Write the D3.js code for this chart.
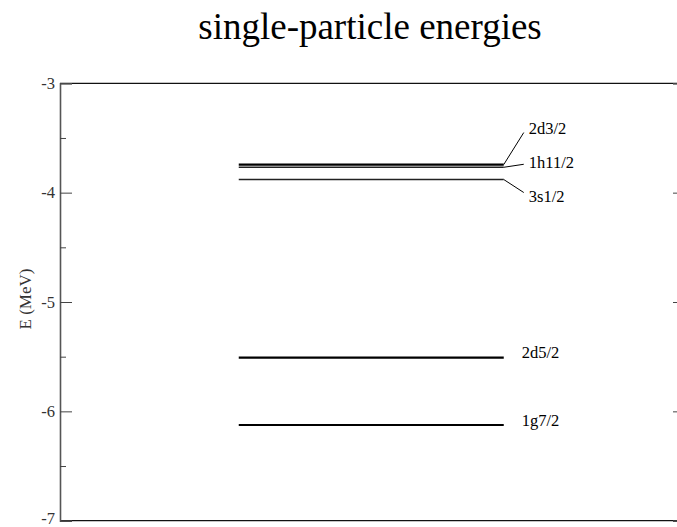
<!DOCTYPE html>
<html>
<head>
<meta charset="utf-8">
<script src="https://cdn.jsdelivr.net/npm/d3@7/dist/d3.min.js"></script>
<style>
  html, body { margin: 0; padding: 0; background: #fff; }
  svg { display: block; font-family: "Liberation Serif", "Times New Roman", serif; }
</style>
</head>
<body>
<svg id="chart" width="677" height="527"></svg>
<script>
// Single-particle levels (MeV)
const levelNames = ["2d3/2", "1h11/2", "3s1/2", "2d5/2", "1g7/2"];
const levelEnergies = [-3.743, -3.768, -3.88, -5.508, -6.125];
const yTicks = [-7, -6, -5, -4, -3];
const yMinorTicks = [-6.5, -5.5, -4.5, -3.5];

const svg = d3.select("#chart");
const plotLeft = 60, plotRight = 685, plotTop = 83.3, plotBottom = 520.7;

const y = d3.scaleLinear().domain([-7, -3]).range([plotBottom, plotTop]);
const x = d3.scaleLinear().domain([0, 1]).range([plotLeft, plotRight]);

// Title
svg.append("text")
  .attr("x", 370).attr("y", 39)
  .attr("text-anchor", "middle")
  .attr("font-size", 37)
  .attr("fill", "#000")
  .text("single-particle energies");

// Frame: top and bottom edges
svg.append("line").attr("x1", plotLeft).attr("x2", plotRight).attr("y1", plotTop).attr("y2", plotTop)
  .attr("stroke", "#111").attr("stroke-width", 1.3);
svg.append("line").attr("x1", plotLeft).attr("x2", plotRight).attr("y1", plotBottom).attr("y2", plotBottom)
  .attr("stroke", "#111").attr("stroke-width", 1.3);

// Left axis with inward ticks
const leftAxis = svg.append("g").attr("transform", `translate(${plotLeft},0)`)
  .call(d3.axisRight(y).tickValues(yTicks).tickSize(12).tickFormat(""));
leftAxis.select(".domain").attr("stroke", "#555").attr("stroke-width", 1.6);
leftAxis.selectAll(".tick line").attr("stroke", "#444").attr("stroke-width", 1);

const leftMinor = svg.append("g").attr("transform", `translate(${plotLeft},0)`)
  .call(d3.axisRight(y).tickValues(yMinorTicks).tickSize(6).tickFormat(""));
leftMinor.select(".domain").remove();
leftMinor.selectAll(".tick line").attr("stroke", "#444").attr("stroke-width", 1);

// Right axis (edge lies just past the visible area)
const rightAxis = svg.append("g").attr("transform", `translate(${plotRight},0)`)
  .call(d3.axisLeft(y).tickValues(yTicks).tickSize(12).tickFormat(""));
rightAxis.select(".domain").attr("stroke", "#555").attr("stroke-width", 1.6);
rightAxis.selectAll(".tick line").attr("stroke", "#444").attr("stroke-width", 1);

// Tick labels (the lowest one is nudged up so it stays inside the page)
svg.append("g").selectAll("text").data(yTicks).join("text")
  .attr("x", 55).attr("y", d => Math.min(y(d), 518))
  .attr("dy", "0.35em")
  .attr("text-anchor", "end")
  .attr("font-size", 16.5)
  .attr("fill", "#333")
  .text(d => d);

// Y axis title
svg.append("text")
  .attr("transform", `translate(31,${(plotTop + plotBottom) / 2 - 3}) rotate(-90)`)
  .attr("text-anchor", "middle")
  .attr("font-size", 17)
  .attr("fill", "#333")
  .text("E (MeV)");

// Level lines
const thinLevels = new Set(["1h11/2", "3s1/2"]);
const x0 = 0.286, x1 = 0.71;
const levels = levelNames.map((n, i) => ({ name: n, e: levelEnergies[i] }));

svg.append("g").selectAll("line").data(levels).join("line")
  .attr("x1", x(x0)).attr("x2", x(x1))
  .attr("y1", d => y(d.e)).attr("y2", d => y(d.e))
  .attr("stroke", d => thinLevels.has(d.name) ? "#222" : "#000")
  .attr("stroke-width", d => thinLevels.has(d.name) ? 1.4 : 2.2);

// Labels: closely spaced levels get leader lines to offset text
const labelOffset = { "2d3/2": -36, "1h11/2": -5, "3s1/2": 17 };
const xEnd = x(x1);
levels.forEach(d => {
  const ly = y(d.e);
  if (d.name in labelOffset) {
    const ty = ly + labelOffset[d.name];
    svg.append("line")
      .attr("x1", xEnd).attr("y1", ly)
      .attr("x2", xEnd + 20).attr("y2", ty + (d.name === "2d3/2" ? 4 : d.name === "3s1/2" ? -4 : 2))
      .attr("stroke", "#000").attr("stroke-width", 1);
    svg.append("text")
      .attr("x", xEnd + 25).attr("y", ty)
      .attr("dy", "0.35em")
      .attr("font-size", 16.5)
      .attr("fill", "#000")
      .text(d.name);
  } else {
    svg.append("text")
      .attr("x", xEnd + 18).attr("y", ly - 5)
      .attr("dy", "0.35em")
      .attr("font-size", 16.5)
      .attr("fill", "#000")
      .text(d.name);
  }
});
</script>
</body>
</html>
